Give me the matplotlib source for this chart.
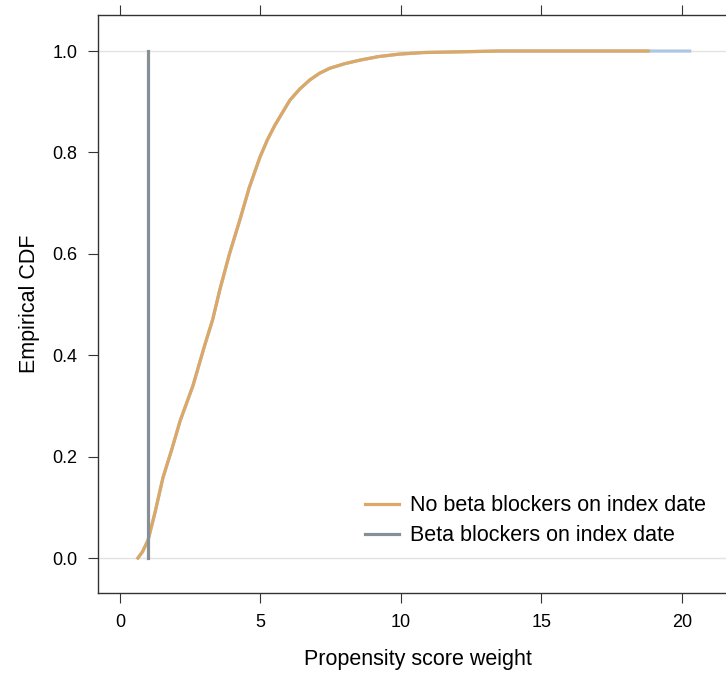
import numpy as np
import matplotlib
matplotlib.use('Agg')
import matplotlib.pyplot as plt

plt.rcParams['font.family'] = ['Liberation Sans', 'DejaVu Sans']

# ECDF of weights, untreated group
w_untreated = [0.64, 0.8, 1.0, 1.25, 1.53, 1.85, 2.14, 2.6, 3.02, 3.3, 3.56, 3.9, 4.27, 4.6,
               4.98, 5.25, 5.52, 5.8, 6.05, 6.4, 6.76, 7.1, 7.47, 8.0, 8.54, 9.2, 9.96,
               10.8, 11.7, 13.5, 18.8]
cdf_untreated = [0.0, 0.012, 0.035, 0.09, 0.158, 0.215, 0.27, 0.34, 0.42, 0.47, 0.53, 0.6,
                 0.667, 0.73, 0.79, 0.825, 0.854, 0.88, 0.903, 0.925, 0.943, 0.956, 0.966,
                 0.975, 0.982, 0.989, 0.994, 0.997, 0.998, 1.0, 1.0]

# treated group: every weight is 1
w_treated = [1.0, 1.0]
cdf_treated = [0.0, 1.0]

# pooled curve, hidden under the orange one except its right tail
w_all = w_untreated[:-1] + [20.28]
cdf_all = cdf_untreated[:-1] + [1.0]

orange = '#dba865'
grey = '#868f95'
blue = '#aec6e6'

fig = plt.figure(figsize=(7.26, 6.74), dpi=100)
ax = fig.add_axes([0.135, 0.1202, 1.0165 - 0.135, 0.9777 - 0.1202])

ax.axhline(0, color='#e3e3e3', lw=1, zorder=1)
ax.axhline(1, color='#e3e3e3', lw=1, zorder=1)

ax.plot(w_all, cdf_all, color=blue, lw=2.3, zorder=2)
ax.plot(w_untreated, cdf_untreated, color=orange, lw=2.3, zorder=3,
        label='No beta blockers on index date')
ax.plot(w_treated, cdf_treated, color=grey, lw=2.3, zorder=4,
        label='Beta blockers on index date')

ax.set_xlim(-0.78, 22.0)
ax.set_ylim(-0.069, 1.071)
ax.set_xticks([0, 5, 10, 15, 20])
ax.set_yticks([0.0, 0.2, 0.4, 0.6, 0.8, 1.0])
ax.set_yticklabels(['0.0', '0.2', '0.4', '0.6', '0.8', '1.0'])
ax.tick_params(axis='x', top=True, bottom=True, direction='out', length=7,
               labelsize=13, pad=8, color='#333333')
ax.tick_params(axis='y', left=True, right=False, direction='out', length=7,
               labelsize=13, pad=8, color='#333333')
for s in ax.spines.values():
    s.set_color('#333333')
    s.set_linewidth(1)

ax.set_xlabel('Propensity score weight', fontsize=15.5, labelpad=13)
ax.set_ylabel('Empirical CDF', fontsize=15.5, labelpad=9)

ax.legend(loc='lower left', bbox_to_anchor=(0.417, 0.081), frameon=False,
          borderpad=0, borderaxespad=0, fontsize=15.5, handlelength=1.6,
          handletextpad=0.5, labelspacing=0.42)

fig.savefig('out.png', dpi=100)
